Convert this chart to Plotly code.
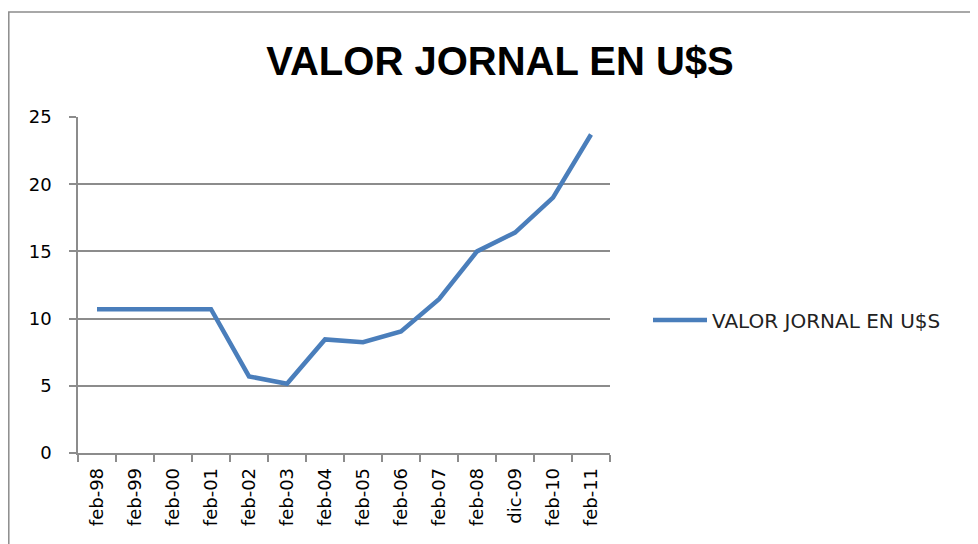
import plotly.graph_objects as go

categories = ["feb-98", "feb-99", "feb-00", "feb-01", "feb-02", "feb-03", "feb-04",
              "feb-05", "feb-06", "feb-07", "feb-08", "dic-09", "feb-10", "feb-11"]
values = [10.7, 10.7, 10.7, 10.7, 5.7, 5.15, 8.45, 8.25, 9.05, 11.45, 15.0, 16.4, 19.0, 23.7]
y_ticks = [0, 5, 10, 15, 20, 25]
series_name = "VALOR JORNAL EN U$S"
title_text = "VALOR JORNAL EN U$S"

# the page body has an 8px margin, so figure coordinates are page coordinates - 8
OFF = 8
W, H = 970, 536
L, R, T, B = 78 - OFF, 610 - OFF, 117 - OFF, 453 - OFF

fig = go.Figure()
fig.add_trace(go.Scatter(
    x=categories, y=values, mode="lines", name=series_name,
    line=dict(color="#4A7EBB", width=4.5),
))

pw, ph = R - L, B - T
fig.add_shape(type="rect", xref="paper", yref="paper",
              x0=(0.8 - L) / pw, x1=(1000 - L) / pw,
              y0=(B - 600) / ph, y1=(B - (12 - OFF)) / ph,
              line=dict(color="#8c8c8c", width=1.5), fillcolor="rgba(0,0,0,0)", layer="below")

tick_font = "Tahoma, DejaVu Sans, Verdana"

fig.update_layout(
    width=W, height=H,
    margin=dict(l=L, r=W - R, t=T, b=H - B, pad=0),
    paper_bgcolor="white", plot_bgcolor="white",
    title=dict(text="<b>" + title_text + "</b>", x=(500 - OFF) / W, xanchor="center",
               y=1 - (61 - OFF) / H, yanchor="middle",
               font=dict(family="Liberation Sans, Arial", size=40, color="black")),
    showlegend=True,
    legend=dict(x=(648 - OFF - L) / pw, y=(B - (320 - OFF)) / ph, xanchor="left", yanchor="middle",
                font=dict(family=tick_font, size=20, color="#222"),
                bgcolor="rgba(0,0,0,0)", itemwidth=54),
    xaxis=dict(type="category", tickangle=-90, tickson="boundaries",
               ticks="outside", ticklen=7, tickcolor="#8c8c8c", tickwidth=1.5,
               showline=True, linecolor="#8c8c8c", linewidth=1.5,
               showgrid=False, range=[-0.5, 13.5], ticklabelstandoff=6,
               tickfont=dict(family=tick_font, size=18, color="black")),
    yaxis=dict(range=[0, 25], tickvals=y_ticks, ticks="outside", ticklen=7,
               tickcolor="#8c8c8c", tickwidth=1.5,
               showline=True, linecolor="#8c8c8c", linewidth=1.5,
               showgrid=True, gridcolor="#8c8c8c", gridwidth=1.5, zeroline=False,
               ticklabelstandoff=14,
               tickfont=dict(family=tick_font, size=18, color="black")),
)

fig.write_html("out.html")
